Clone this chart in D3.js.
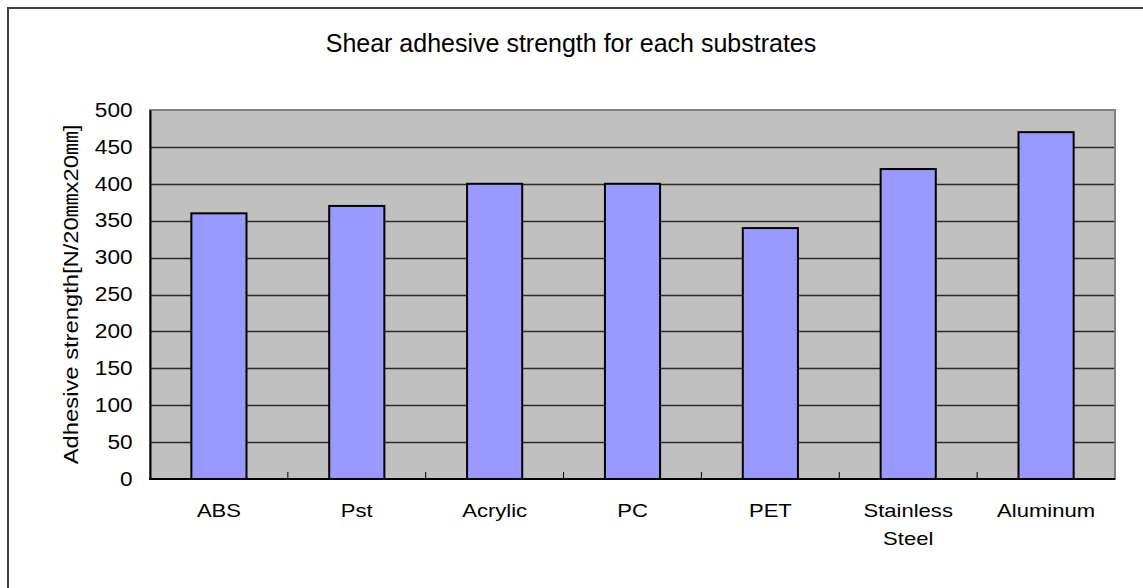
<!DOCTYPE html>
<html>
<head>
<meta charset="utf-8">
<script src="https://cdnjs.cloudflare.com/ajax/libs/d3/7.8.5/d3.min.js"></script>
<style>
  body { margin: 0; background: #fff; }
  svg { display: block; font-family: "Liberation Sans", Arial, "Noto Sans CJK JP", sans-serif; }
</style>
</head>
<body>
<svg id="chart" width="1143" height="588"></svg>
<script>
// Chart data
const categories = ["ABS", "Pst", "Acrylic", "PC", "PET", "Stainless Steel", "Aluminum"];
const strengths = [360, 370, 400, 400, 340, 420, 470];
const yTicks = [0, 50, 100, 150, 200, 250, 300, 350, 400, 450, 500];
const titleText = "Shear adhesive strength for each substrates";
const yLabelText = "Adhesive strength[N/20㎜x20㎜]";

const svg = d3.select("#chart");
const plot = { left: 150, top: 110, right: 1115, bottom: 479 };
// glyphs in the original are a bit wider than Arial
const stretch = 1.16;

// Outer frame (only top/left edges are in view)
svg.append("path")
  .attr("d", "M8,1200V8H1200")
  .attr("fill", "none")
  .attr("stroke", "#404040")
  .attr("stroke-width", 2);

// Scales
const x = d3.scaleBand()
  .domain(categories)
  .range([plot.left, plot.right])
  .paddingInner(0.6)
  .paddingOuter(0.3);

const y = d3.scaleLinear()
  .domain([0, 500])
  .range([plot.bottom, plot.top]);

// Plot background
svg.append("rect")
  .attr("x", plot.left)
  .attr("y", plot.top)
  .attr("width", plot.right - plot.left)
  .attr("height", plot.bottom - plot.top)
  .attr("fill", "#c0c0c0")
  .attr("stroke", "#808080")
  .attr("stroke-width", 2);

// Gridlines
svg.append("g")
  .selectAll("line")
  .data(yTicks.filter(d => d > 0 && d < 500))
  .enter()
  .append("line")
  .attr("x1", plot.left)
  .attr("x2", plot.right - 1)
  .attr("y1", d => Math.round(y(d)) + 0.5)
  .attr("y2", d => Math.round(y(d)) + 0.5)
  .attr("stroke", "#2a2a2a")
  .attr("stroke-width", 1.4);

// Y axis
const yAxis = svg.append("g")
  .attr("transform", `translate(${plot.left},0)`)
  .call(d3.axisLeft(y).tickValues(yTicks).tickSize(0).tickPadding(15));
yAxis.select(".domain").attr("stroke", "#000").attr("stroke-width", 2);
yAxis.selectAll("text")
  .attr("font-size", 19.5)
  .attr("transform", `scale(${stretch},1)`)
  .attr("fill", "#000")
  .attr("font-family", "Liberation Sans, Arial, sans-serif");

// Bars
svg.append("g")
  .selectAll("rect")
  .data(categories)
  .enter()
  .append("rect")
  .attr("x", d => x(d))
  .attr("y", (d, i) => y(strengths[i]))
  .attr("width", x.bandwidth())
  .attr("height", (d, i) => plot.bottom - y(strengths[i]))
  .attr("fill", "#9999ff")
  .attr("stroke", "#000")
  .attr("stroke-width", 2);

// X axis line and tick marks between categories
const edges = d3.range(categories.length + 1).map(i => plot.left + i * (plot.right - plot.left) / categories.length);
svg.append("g")
  .selectAll("line")
  .data(edges.slice(1, -1))
  .enter()
  .append("line")
  .attr("x1", d => d)
  .attr("x2", d => d)
  .attr("y1", plot.bottom)
  .attr("y2", plot.bottom - 7)
  .attr("stroke", "#000")
  .attr("stroke-width", 1);

svg.append("line")
  .attr("x1", plot.left - 1)
  .attr("x2", plot.right)
  .attr("y1", plot.bottom)
  .attr("y2", plot.bottom)
  .attr("stroke", "#000")
  .attr("stroke-width", 2);

// Category labels (wrapped on spaces)
const labels = svg.append("g")
  .selectAll("text")
  .data(categories)
  .enter()
  .append("text")
  .attr("transform", d => `translate(${x(d) + x.bandwidth() / 2},517) scale(${stretch},1)`)
  .attr("text-anchor", "middle")
  .attr("font-size", 19)
  .attr("fill", "#000");
labels.each(function (d) {
  const t = d3.select(this);
  d.split(" ").forEach((w, i) => {
    t.append("tspan")
      .attr("x", 0)
      .attr("dy", i === 0 ? 0 : 28)
      .text(w);
  });
});

// Title
svg.append("text")
  .attr("x", 571)
  .attr("y", 52)
  .attr("text-anchor", "middle")
  .attr("font-size", 25)
  .attr("fill", "#000")
  .text(titleText);

// Y axis title
svg.append("text")
  .attr("transform", `translate(78,${(plot.top + plot.bottom) / 2}) rotate(-90) scale(${stretch},1)`)
  .attr("text-anchor", "middle")
  .attr("font-size", 20.5)
  .attr("fill", "#000")
  .text(yLabelText);
</script>
</body>
</html>
